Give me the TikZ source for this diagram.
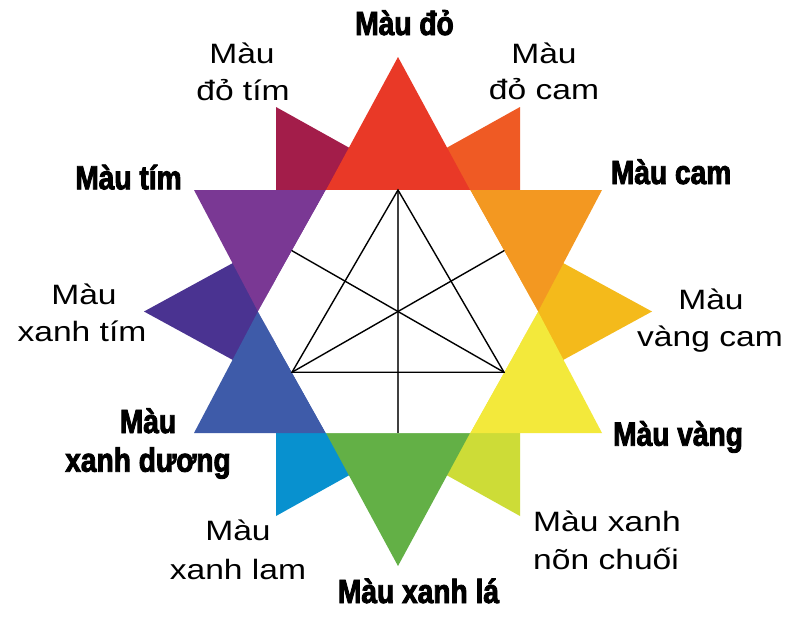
\documentclass[tikz,border=0pt]{standalone}
\usepackage{fontspec}
\setmainfont{Liberation Sans}
\newfontfamily\regfont[FakeStretch=1.2]{Liberation Sans}
\newfontfamily\boldfont[FakeStretch=0.84,FakeBold=2.6]{Liberation Sans Bold}
\definecolor{cred}{RGB}{233,57,39}
\definecolor{cmag}{RGB}{163,29,74}
\definecolor{corr}{RGB}{239,90,36}
\definecolor{corg}{RGB}{243,152,33}
\definecolor{cyor}{RGB}{244,186,27}
\definecolor{cyel}{RGB}{243,233,59}
\definecolor{cygr}{RGB}{205,220,55}
\definecolor{cgrn}{RGB}{99,176,70}
\definecolor{clam}{RGB}{8,145,207}
\definecolor{cblu}{RGB}{62,91,169}
\definecolor{cind}{RGB}{74,51,145}
\definecolor{cpur}{RGB}{122,56,148}
\tikzset{
  reg/.style={font=\regfont\fontsize{28}{34}\selectfont, inner sep=0pt, anchor=base},
  bld/.style={font=\boldfont\fontsize{33.5}{38}\selectfont, inner sep=0pt, anchor=base},
  spoke/.style={draw=black, line width=1.4pt, line cap=round},
  axis/.style={draw=black!75, line width=1.9pt},
}
\begin{document}
\begin{tikzpicture}[x=1pt,y=-1pt]
\useasboundingbox[fill=white] (0,0) rectangle (800,616);
% hexagon corners
\coordinate (C) at (398,311.5);
\coordinate (H1) at (326,190);
\coordinate (H2) at (470,190);
\coordinate (H3) at (538,311.5);
\coordinate (H4) at (470,433);
\coordinate (H5) at (326,433);
\coordinate (H6) at (258,311.5);
% outer tips of the six big triangles
\coordinate (Tr) at (398,57);
\coordinate (To) at (602,190);
\coordinate (Ty) at (602,433);
\coordinate (Tg) at (398,566);
\coordinate (Tb) at (194,433);
\coordinate (Tp) at (194,190);
% edge midpoints
\coordinate (M12) at (398,190);
\coordinate (M23) at (504,250.75);
\coordinate (M34) at (504,372.25);
\coordinate (M45) at (398,433);
\coordinate (M56) at (292,372.25);
\coordinate (M61) at (292,250.75);
% tertiary colours (behind)
\fill[cmag] (276,107) -- (276,190) -- (425,190) -- cycle;
\fill[corr] (520,107) -- (520,190) -- (371,190) -- cycle;
\fill[cyor] (652,311.5) -- (520,239.5) -- (520,383.5) -- cycle;
\fill[cygr] (520,516) -- (520,433) -- (371,433) -- cycle;
\fill[clam] (276,516) -- (276,433) -- (425,433) -- cycle;
\fill[cind] (144,311.5) -- (276,239.5) -- (276,383.5) -- cycle;
% primary and secondary triangles
\fill[cred] (H1) -- (Tr) -- (H2) -- cycle;
\fill[corg] (H2) -- (To) -- (H3) -- cycle;
\fill[cyel] (H3) -- (Ty) -- (H4) -- cycle;
\fill[cgrn] (H4) -- (Tg) -- (H5) -- cycle;
\fill[cblu] (H5) -- (Tb) -- (H6) -- cycle;
\fill[cpur] (H6) -- (Tp) -- (H1) -- cycle;
% white centre
\fill[white] (H1) -- (H2) -- (H3) -- (H4) -- (H5) -- (H6) -- cycle;
% inner lines
\draw[axis] (M12) -- (M45);
\draw[spoke] (M12) -- (M56) -- (M34) -- cycle;
\draw[spoke] (M56) -- (M23);
\draw[spoke] (M34) -- (M61);
% labels
\node[bld] (lred) at (404.5,35) {Màu đỏ};
\node[reg] (lmag1) at (242,63.3) {Màu};
\node[reg] (lmag2) at (243,100) {đỏ tím};
\node[reg] (lorr1) at (544,63) {Màu};
\node[reg] (lorr2) at (544,99) {đỏ cam};
\node[bld, anchor=base west] (lorg) at (610.7,184) {Màu cam};
\node[reg] (lyor1) at (711,309) {Màu};
\node[reg] (lyor2) at (710,346.7) {vàng cam};
\node[bld, anchor=base west] (lyel) at (613,445.7) {Màu vàng};
\node[reg, anchor=base west] (lygr1) at (533,531.7) {Màu xanh};
\node[reg, anchor=base west] (lygr2) at (533,569) {nõn chuối};
\node[bld] (lgrn) at (418.5,603) {Màu xanh lá};
\node[reg] (llam1) at (238,540) {Màu};
\node[reg] (llam2) at (238,579) {xanh lam};
\node[bld] (lblu1) at (148,433) {Màu};
\node[bld] (lblu2) at (148,471.7) {xanh dương};
\node[reg] (lind1) at (84,304) {Màu};
\node[reg] (lind2) at (82,341.7) {xanh tím};
\node[bld] (lpur) at (128.5,189.3) {Màu tím};
\end{tikzpicture}
\end{document}
